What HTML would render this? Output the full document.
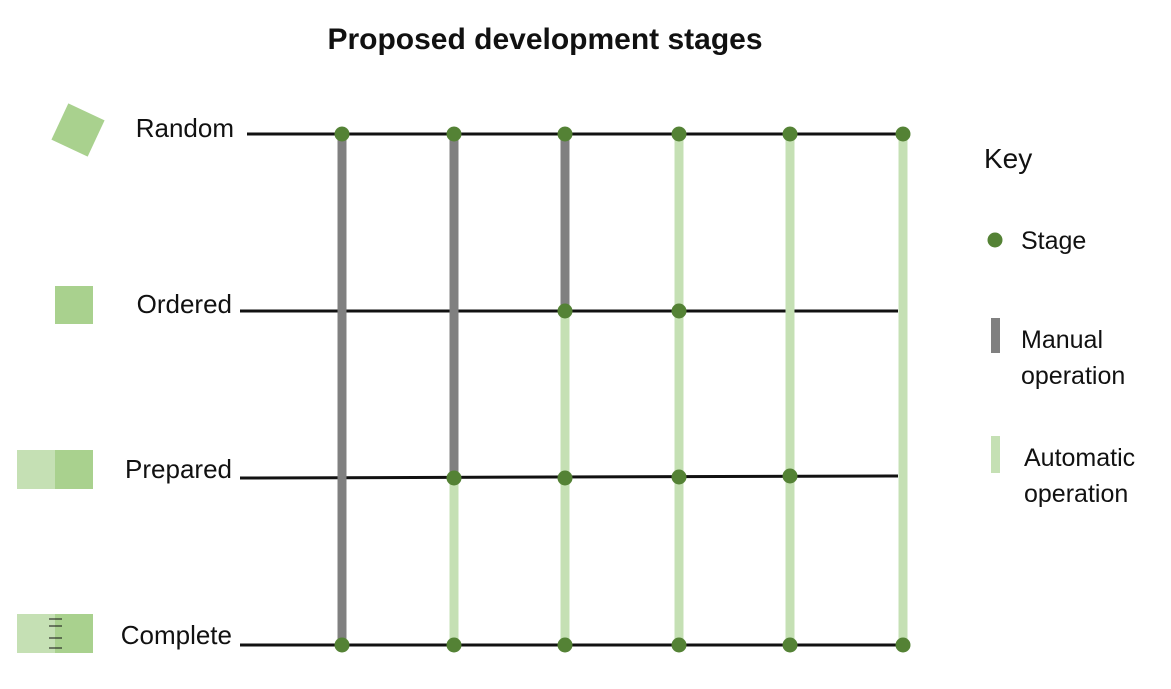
<!DOCTYPE html>
<html><head><style>body{margin:0;background:#fff}svg{display:block}text{font-family:"Liberation Sans",sans-serif;fill:#111}</style></head><body>
<svg width="1171" height="689" viewBox="0 0 1171 689">
<text x="545" y="49" text-anchor="middle" font-size="30" font-weight="bold">Proposed development stages</text>
<g stroke="#111" stroke-width="3">
<line x1="247" y1="134" x2="903" y2="134"/>
<line x1="240" y1="311" x2="898" y2="311"/>
<line x1="240" y1="478" x2="898" y2="476"/>
<line x1="240" y1="645" x2="903" y2="645"/>
</g>
<g stroke-width="9">
<line x1="342" y1="134" x2="342" y2="645" stroke="#808080"/>
<line x1="454" y1="134" x2="454" y2="478" stroke="#808080"/>
<line x1="454" y1="478" x2="454" y2="645" stroke="#c5e0b4"/>
<line x1="565" y1="134" x2="565" y2="311" stroke="#808080"/>
<line x1="565" y1="311" x2="565" y2="645" stroke="#c5e0b4"/>
<line x1="679" y1="134" x2="679" y2="645" stroke="#c5e0b4"/>
<line x1="790" y1="134" x2="790" y2="645" stroke="#c5e0b4"/>
<line x1="903" y1="134" x2="903" y2="645" stroke="#c5e0b4"/>
</g>
<g fill="#548235">
<circle cx="342" cy="134" r="7.5"/><circle cx="342" cy="645" r="7.5"/>
<circle cx="454" cy="134" r="7.5"/><circle cx="454" cy="478" r="7.5"/><circle cx="454" cy="645" r="7.5"/>
<circle cx="565" cy="134" r="7.5"/><circle cx="565" cy="311" r="7.5"/><circle cx="565" cy="478" r="7.5"/><circle cx="565" cy="645" r="7.5"/>
<circle cx="679" cy="134" r="7.5"/><circle cx="679" cy="311" r="7.5"/><circle cx="679" cy="477" r="7.5"/><circle cx="679" cy="645" r="7.5"/>
<circle cx="790" cy="134" r="7.5"/><circle cx="790" cy="476" r="7.5"/><circle cx="790" cy="645" r="7.5"/>
<circle cx="903" cy="134" r="7.5"/><circle cx="903" cy="645" r="7.5"/>
</g>
<g font-size="26">
<text x="234" y="137" text-anchor="end">Random</text>
<text x="232" y="313" text-anchor="end">Ordered</text>
<text x="232" y="478" text-anchor="end">Prepared</text>
<text x="232" y="644" text-anchor="end">Complete</text>
</g>
<rect x="58" y="110" width="40" height="40" fill="#a9d18e" transform="rotate(25 78 130)"/>
<rect x="55" y="286" width="38" height="38" fill="#a9d18e"/>
<rect x="17" y="450" width="38" height="39" fill="#c5e0b4"/><rect x="55" y="450" width="38" height="39" fill="#a9d18e"/>
<rect x="17" y="614" width="38" height="39" fill="#c5e0b4"/><rect x="55" y="614" width="38" height="39" fill="#a9d18e"/>
<g stroke="#111" stroke-width="1"><line x1="49" y1="619" x2="62" y2="619"/><line x1="49" y1="626" x2="62" y2="626"/><line x1="49" y1="638" x2="62" y2="638"/><line x1="49" y1="648" x2="62" y2="648"/></g>
<text x="984" y="168" font-size="28">Key</text>
<circle cx="995" cy="240" r="7.5" fill="#548235"/>
<g font-size="25">
<text x="1021" y="249">Stage</text>
<text x="1021" y="348">Manual</text>
<text x="1021" y="384">operation</text>
<text x="1024" y="466">Automatic</text>
<text x="1024" y="502">operation</text>
</g>
<rect x="991" y="318" width="9" height="35" fill="#808080"/>
<rect x="991" y="436" width="9" height="37" fill="#c5e0b4"/>
</svg>
</body></html>
